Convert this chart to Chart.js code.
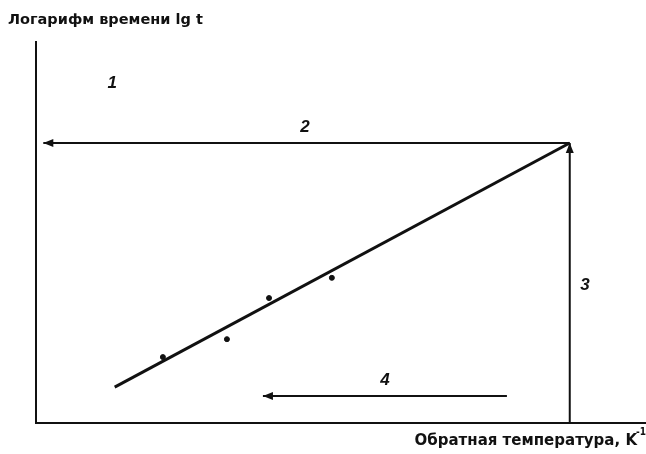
<!DOCTYPE html>
<html>
<head>
<meta charset="utf-8">
<script src="https://cdn.jsdelivr.net/npm/chart.js@4/dist/chart.umd.min.js"></script>
<style>
	html, body { margin:0; padding:0; background:#fff; overflow:hidden; }
	#wrap { width:646px; height:454px; overflow:hidden; }
</style>
</head>
<body>
<div id="wrap"><canvas id="arrChart" width="651" height="454"></canvas></div>
<script>

// Axis titles. 
const yTitle = 'Логарифм времени lg t';
const xTitle = 'Обратная температура, K';

// Measured points (reciprocal temperature, log time). 
const pointX = [20.8, 31.3, 38.2, 48.5];
const pointY = [17.3, 22.0, 32.8, 38.1];

// Fitted straight line through the points. 
const fitX = [12.9, 87.5];
const fitY = [9.4, 73.5];

// Arrow 2: from the end of the fit back to the time axis. 
const arrow2X = [87.5, 1.2];
const arrow2Y = [73.5, 73.5];

// Arrow 3: up from the temperature axis to the end of the fit. 
const arrow3X = [87.5, 87.5];
const arrow3Y = [0, 73.5];

// Arrow 4: along the temperature axis. 
const arrow4X = [77.2, 37.2];
const arrow4Y = [7.1, 7.1];

// Step numbers and where they sit. 
const stepLabels = ['1', '2', '3', '4'];
const stepX = [12.5, 44.1, 90.0, 57.2];
const stepY = [89.2, 77.7, 36.2, 11.3];


/*****/

function pts(xs, ys) {
	return xs.map((x, i) => ({x:x, y:ys[i]}));
}

function lineSet(xs, ys, w, arrow) {
	return {
		type:'line',
		data:pts(xs, ys),
		borderColor:'#111',
		borderWidth:w,
		pointRadius:0,
		fill:false,
		arrow:arrow
	};
}

// Draws arrow heads, step numbers and axis titles. 
const extras = {
	id:'extras',
	afterDatasetsDraw(chart) {
		const ctx = chart.ctx;
		const sx = chart.scales.x, sy = chart.scales.y;
		ctx.save();
		ctx.fillStyle = '#111';

		// Arrow heads at the last point of each flagged line. 
		chart.data.datasets.forEach(ds => {
			if (!ds.arrow) return;
			const n = ds.data.length;
			const a = ds.data[n-2], b = ds.data[n-1];
			const x1 = sx.getPixelForValue(a.x), y1 = sy.getPixelForValue(a.y);
			const x2 = sx.getPixelForValue(b.x), y2 = sy.getPixelForValue(b.y);
			const ang = Math.atan2(y2-y1, x2-x1);
			const len = 10, half = 4;
			ctx.beginPath();
			ctx.moveTo(x2, y2);
			ctx.lineTo(x2 - len*Math.cos(ang) + half*Math.sin(ang), y2 - len*Math.sin(ang) - half*Math.cos(ang));
			ctx.lineTo(x2 - len*Math.cos(ang) - half*Math.sin(ang), y2 - len*Math.sin(ang) + half*Math.cos(ang));
			ctx.closePath();
			ctx.fill();
		});

		// Step numbers. 
		ctx.font = 'italic bold 17px "Liberation Sans", Arial, sans-serif';
		ctx.textAlign = 'center';
		ctx.textBaseline = 'middle';
		stepLabels.forEach((t, i) => {
			ctx.fillText(t, sx.getPixelForValue(stepX[i]), sy.getPixelForValue(stepY[i]));
		});

		// Axis titles. 
		ctx.font = 'bold 14.5px "DejaVu Sans", sans-serif';
		ctx.textAlign = 'left';
		ctx.textBaseline = 'middle';
		ctx.fillText(yTitle, 8, 20);

		ctx.font = 'bold 15px "DejaVu Sans", sans-serif';
		ctx.textAlign = 'right';
		ctx.fillText(xTitle, 637, 441);
		ctx.font = 'bold 10px "DejaVu Sans Condensed", "DejaVu Sans", sans-serif';
		ctx.textAlign = 'left';
		ctx.fillText('-1', 636, 432);
		ctx.restore();
	}
};

new Chart(document.getElementById('arrChart').getContext('2d'), {
	type:'scatter',
	data:{
		datasets:[
			{
				type:'scatter',
				data:pts(pointX, pointY),
				backgroundColor:'#111',
				borderColor:'#111',
				pointRadius:2.5
			},
			lineSet(fitX, fitY, 3, false),
			lineSet(arrow2X, arrow2Y, 2, true),
			lineSet(arrow3X, arrow3Y, 2, true),
			lineSet(arrow4X, arrow4Y, 2, true)
		]
	},
	options:{
		responsive:false,
		animation:false,
		events:[],
		layout:{padding:{left:36, top:42, right:0, bottom:31}},
		plugins:{legend:{display:false}, tooltip:{enabled:false}, title:{display:false}},
		scales:{
			x:{
				type:'linear', min:0, max:100,
				ticks:{display:false},
				grid:{display:false, drawTicks:false},
				border:{display:true, color:'#111', width:2}
			},
			y:{
				type:'linear', min:0, max:100,
				ticks:{display:false},
				grid:{display:false, drawTicks:false},
				border:{display:true, color:'#111', width:2}
			}
		}
	},
	plugins:[extras]
});
</script>
</body>
</html>
